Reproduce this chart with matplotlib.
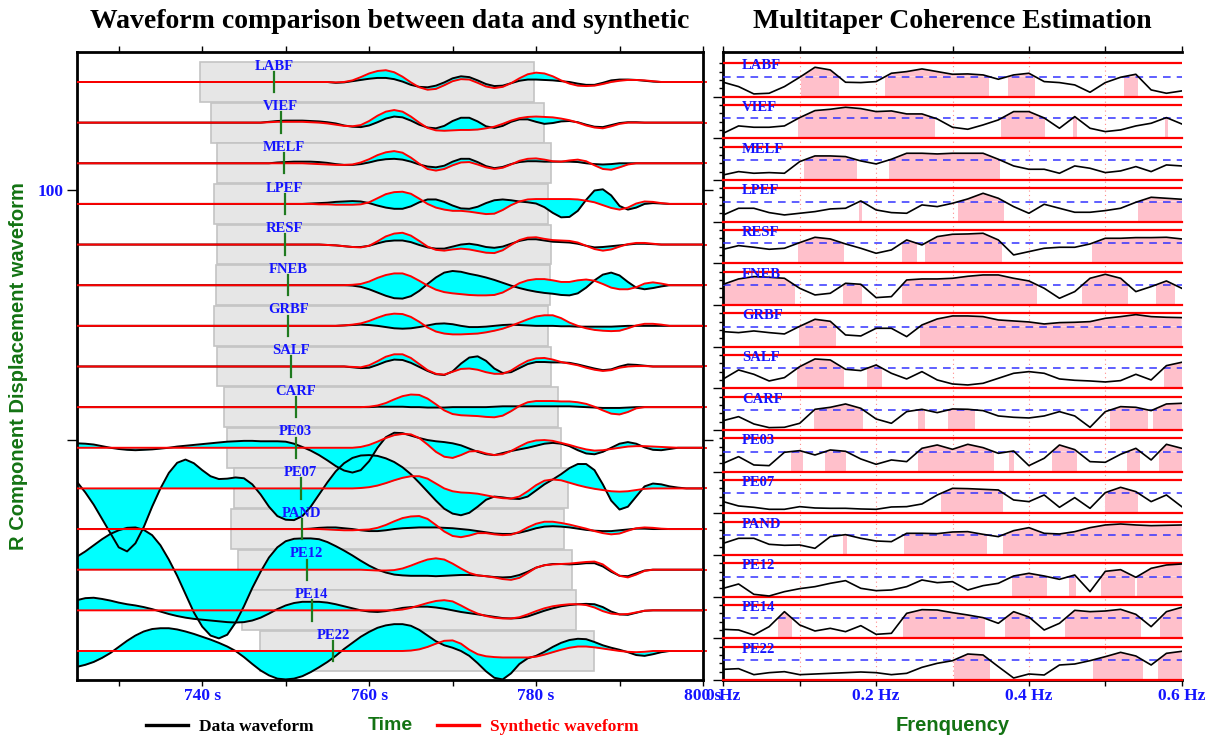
import numpy as np
import matplotlib.pyplot as plt
from matplotlib.lines import Line2D

# ---------------- data ----------------
stations = ['LABF', 'VIEF', 'MELF', 'LPEF', 'RESF', 'FNEB', 'GRBF', 'SALF',
            'CARF', 'PE03', 'PE07', 'PAND', 'PE12', 'PE14', 'PE22']

# arrival picks (s) and start of the 40 s comparison windows (s)
pick_t = [748.6, 749.4, 749.8, 749.9, 749.9, 750.3, 750.3, 750.6,
          751.2, 751.2, 751.8, 751.9, 752.5, 753.1, 755.7]
win_t0 = [739.7, 741.0, 741.8, 741.4, 741.8, 741.7, 741.4, 741.8,
          742.6, 743.0, 743.8, 743.4, 744.3, 744.8, 746.9]
win_len = 40.0

# waveforms, 1 s samples, amplitude in units of trace spacing; flat (0) outside
data_t0 = [756, 747, 748, 752, 754, 756, 756, 756, 758, 725, 725, 752, 725, 725, 725]
data_amp = [
    [-0.02,-0.01,0.02,0.05,0.08,0.10,0.10,0.07,0.01,-0.07,-0.12,-0.13,-0.09,-0.01,0.09,0.14,0.12,0.04,-0.05,-0.10,-0.09,-0.03,0.03,0.06,0.06,0.05,0.04,0.02,0.00,-0.04,-0.07,-0.07,-0.02,0.04,0.06,0.06,0.05,0.03,0.01,0.00],
    [0.00,0.02,0.04,0.05,0.05,0.05,0.04,0.03,0.01,-0.02,-0.07,-0.10,-0.11,-0.07,0.01,0.10,0.15,0.13,0.05,-0.05,-0.12,-0.14,-0.08,0.04,0.12,0.12,0.03,-0.09,-0.13,-0.08,0.02,0.08,0.08,0.02,-0.03,-0.01,0.03,0.04,0.01,-0.05,-0.10,-0.11,-0.06,-0.01,0.01,0.01,0.00],
    [0.00,0.02,0.03,0.04,0.04,0.04,0.03,0.01,-0.02,-0.04,-0.04,-0.02,0.02,0.07,0.10,0.11,0.09,0.04,-0.03,-0.08,-0.10,-0.06,0.04,0.11,0.11,0.03,-0.07,-0.12,-0.09,-0.02,0.03,0.05,0.05,0.04,0.04,0.04,0.04,0.03,0.00,-0.02,-0.03,-0.02,0.00,0.00],
    [0.00,0.01,0.02,0.03,0.05,0.06,0.07,0.06,0.02,-0.04,-0.09,-0.12,-0.12,-0.06,0.04,0.11,0.11,0.05,-0.04,-0.11,-0.12,-0.07,0.02,0.09,0.11,0.09,0.06,0.04,0.01,-0.08,-0.22,-0.33,-0.32,-0.17,0.10,0.33,0.36,0.21,-0.05,-0.14,-0.09,0.00,0.02,0.01,0.00],
    [0.00,-0.01,-0.02,-0.04,-0.06,-0.06,-0.03,0.03,0.08,0.10,0.10,0.06,-0.01,-0.07,-0.10,-0.10,-0.05,0.00,0.02,-0.01,-0.06,-0.08,-0.05,0.02,0.09,0.13,0.13,0.10,0.07,0.06,0.05,0.02,-0.03,-0.07,-0.06,-0.04,-0.02,0.00,0.02,0.02,0.01,0.00],
    [0.00,0.00,-0.01,-0.04,-0.10,-0.18,-0.26,-0.32,-0.33,-0.27,-0.14,0.03,0.19,0.31,0.35,0.33,0.28,0.24,0.19,0.13,0.06,-0.01,-0.07,-0.12,-0.16,-0.19,-0.21,-0.24,-0.25,-0.20,-0.06,0.12,0.26,0.31,0.24,0.08,-0.06,-0.10,-0.07,-0.03,0.00],
    [0.00,0.01,0.02,0.03,0.02,0.00,-0.03,-0.06,-0.07,-0.06,-0.03,0.01,0.05,0.06,0.04,0.00,-0.03,-0.03,-0.02,0.00,0.02,0.03,0.02,0.01,0.00,0.00,0.00,-0.01,-0.01,-0.02,-0.02,-0.02,-0.02,-0.02,-0.01,0.00],
    [0.00,0.00,-0.02,-0.04,-0.03,0.04,0.12,0.17,0.16,0.09,-0.01,-0.11,-0.19,-0.21,-0.12,0.07,0.22,0.25,0.14,-0.05,-0.16,-0.14,-0.04,0.06,0.11,0.11,0.10,0.10,0.09,0.05,0.00,-0.05,-0.09,-0.07,0.00,0.05,0.04,0.02,0.00],
    [0.00,0.00,0.00,0.01,0.01,0.01,0.01,0.00,0.00,-0.01,-0.01,-0.01,0.00,0.00,0.00,0.00,0.00,0.01,0.02,0.02,0.02,0.02,0.02,0.02,0.02,0.02,0.02,0.01,0.00,-0.01,-0.02,-0.02,-0.02,-0.01,0.00],
    [0.11,0.10,0.08,0.04,0.00,-0.03,-0.05,-0.06,-0.05,-0.04,-0.02,0.00,0.03,0.05,0.07,0.09,0.11,0.13,0.15,0.16,0.17,0.17,0.16,0.16,0.16,0.15,0.10,0.02,-0.07,-0.18,-0.31,-0.45,-0.56,-0.61,-0.55,-0.33,0.00,0.26,0.37,0.36,0.30,0.24,0.19,0.16,0.14,0.11,0.06,-0.02,-0.10,-0.16,-0.18,-0.13,-0.08,-0.04,0.00,0.05,0.10,0.12,0.10,0.04,-0.06,-0.14,-0.16,-0.10,0.00,0.10,0.14,0.10,0.01,-0.05,-0.06,-0.03,0.00],
    [0.16,-0.10,-0.40,-0.75,-1.10,-1.45,-1.55,-1.35,-0.95,-0.45,0.00,0.38,0.63,0.71,0.62,0.45,0.30,0.23,0.24,0.27,0.25,0.10,-0.15,-0.45,-0.68,-0.77,-0.78,-0.68,-0.45,-0.15,0.15,0.42,0.62,0.75,0.81,0.82,0.80,0.74,0.65,0.52,0.35,0.14,-0.08,-0.30,-0.50,-0.62,-0.66,-0.60,-0.45,-0.28,-0.20,-0.22,-0.25,-0.26,-0.20,-0.05,0.10,0.22,0.35,0.50,0.60,0.60,0.45,0.10,-0.30,-0.52,-0.45,-0.20,0.05,0.12,0.10,0.05,0.02,0.00,0.00,0.00],
    [0.00,0.01,0.03,0.04,0.04,0.02,0.00,-0.03,-0.05,-0.05,-0.03,0.00,0.02,0.03,0.04,0.04,0.04,0.03,0.02,0.00,-0.02,-0.05,-0.08,-0.11,-0.12,-0.12,-0.09,-0.04,0.02,0.06,0.07,0.06,0.04,0.01,-0.02,-0.04,-0.05,-0.05,-0.03,-0.01,0.01,0.01,0.00],
    [0.32,0.45,0.60,0.75,0.88,0.97,1.03,1.04,0.98,0.85,0.60,0.25,-0.15,-0.60,-1.05,-1.40,-1.62,-1.69,-1.60,-1.30,-0.90,-0.45,-0.05,0.30,0.55,0.70,0.76,0.77,0.77,0.75,0.68,0.58,0.47,0.35,0.22,0.10,0.00,-0.07,-0.12,-0.14,-0.15,-0.15,-0.15,-0.16,-0.15,-0.14,-0.13,-0.13,-0.14,-0.16,-0.18,-0.19,-0.18,-0.13,-0.05,0.05,0.11,0.14,0.14,0.13,0.14,0.16,0.16,0.08,-0.05,-0.15,-0.16,-0.09,-0.02,0.00],
    [0.25,0.30,0.31,0.28,0.24,0.19,0.15,0.12,0.08,0.03,-0.03,-0.09,-0.14,-0.18,-0.21,-0.23,-0.25,-0.27,-0.29,-0.30,-0.29,-0.25,-0.18,-0.08,0.03,0.12,0.18,0.21,0.21,0.21,0.19,0.15,0.10,0.05,0.00,-0.03,-0.04,-0.02,0.02,0.06,0.08,0.09,0.09,0.07,0.04,0.00,-0.04,-0.07,-0.10,-0.13,-0.16,-0.19,-0.20,-0.19,-0.15,-0.08,-0.01,0.05,0.10,0.13,0.15,0.16,0.15,0.08,-0.03,-0.10,-0.11,-0.06,-0.01,0.00],
    [-0.39,-0.34,-0.27,-0.17,-0.05,0.10,0.25,0.38,0.48,0.54,0.56,0.56,0.53,0.48,0.42,0.35,0.28,0.20,0.11,0.00,-0.15,-0.32,-0.48,-0.60,-0.68,-0.70,-0.68,-0.62,-0.52,-0.40,-0.27,-0.12,0.05,0.20,0.35,0.47,0.57,0.63,0.66,0.66,0.62,0.52,0.38,0.24,0.14,0.08,0.00,-0.12,-0.30,-0.50,-0.66,-0.70,-0.55,-0.32,-0.18,-0.12,-0.02,0.10,0.20,0.27,0.30,0.29,0.22,0.14,0.08,0.03,-0.03,-0.10,-0.12,-0.08,-0.03,0.00],
]
syn_t0 = [756, 747, 748, 752, 754, 756, 756, 756, 758, 758, 758, 752, 759, 763, 765]
syn_amp = [
    [-0.01,0.00,0.04,0.12,0.21,0.27,0.29,0.24,0.13,-0.01,-0.13,-0.19,-0.17,-0.08,0.02,0.07,0.06,-0.02,-0.11,-0.15,-0.12,-0.03,0.09,0.19,0.23,0.21,0.14,0.04,-0.04,-0.09,-0.10,-0.09,-0.05,0.00,0.03,0.05,0.05,0.04,0.02,0.00],
    [0.00,0.01,0.02,0.02,0.02,0.02,0.01,0.00,-0.02,-0.05,-0.08,-0.09,-0.06,0.04,0.17,0.27,0.31,0.27,0.15,0.00,-0.13,-0.19,-0.20,-0.19,-0.18,-0.18,-0.17,-0.14,-0.10,-0.03,0.05,0.11,0.14,0.15,0.14,0.13,0.10,0.06,0.00,-0.07,-0.12,-0.14,-0.09,-0.03,0.00,0.00],
    [0.00,0.00,0.00,0.00,0.00,-0.01,-0.02,-0.03,-0.04,-0.04,-0.03,0.02,0.10,0.20,0.27,0.30,0.26,0.14,-0.01,-0.14,-0.18,-0.14,-0.05,0.02,0.03,-0.03,-0.10,-0.14,-0.11,-0.03,0.06,0.11,0.12,0.09,0.05,0.04,0.07,0.09,0.05,-0.05,-0.14,-0.16,-0.10,-0.03,0.00],
    [0.00,0.00,-0.01,-0.01,-0.02,-0.02,-0.02,-0.01,0.04,0.14,0.24,0.29,0.30,0.25,0.13,0.00,-0.09,-0.14,-0.17,-0.17,-0.19,-0.22,-0.25,-0.24,-0.15,-0.03,0.06,0.11,0.12,0.12,0.12,0.12,0.12,0.11,0.08,0.04,-0.03,-0.10,-0.14,-0.09,0.01,0.06,0.05,0.02,0.00],
    [0.00,-0.01,-0.02,-0.04,-0.06,-0.07,-0.03,0.08,0.20,0.27,0.29,0.22,0.09,-0.05,-0.13,-0.15,-0.12,-0.10,-0.12,-0.16,-0.20,-0.21,-0.14,-0.01,0.11,0.17,0.18,0.14,0.11,0.10,0.09,0.05,-0.03,-0.11,-0.15,-0.12,-0.05,0.01,0.04,0.04,0.02,0.00],
    [0.00,0.00,0.01,0.03,0.09,0.18,0.25,0.29,0.29,0.22,0.11,-0.01,-0.11,-0.17,-0.20,-0.22,-0.24,-0.25,-0.25,-0.24,-0.18,-0.07,0.05,0.12,0.15,0.15,0.12,0.08,0.08,0.12,0.14,0.11,0.03,-0.06,-0.10,-0.10,-0.05,0.04,0.07,0.04,0.00],
    [0.00,0.01,0.03,0.06,0.12,0.20,0.27,0.30,0.29,0.22,0.10,-0.04,-0.14,-0.19,-0.21,-0.21,-0.20,-0.19,-0.16,-0.12,-0.07,0.00,0.08,0.16,0.23,0.26,0.26,0.19,0.08,0.00,-0.06,-0.10,-0.12,-0.13,-0.12,-0.06,0.01,0.05,0.05,0.03,0.00],
    [0.00,0.00,-0.01,-0.02,0.03,0.13,0.24,0.30,0.30,0.21,0.06,-0.09,-0.18,-0.20,-0.13,-0.06,-0.05,-0.08,-0.14,-0.18,-0.18,-0.10,0.03,0.14,0.20,0.21,0.17,0.11,0.07,0.03,-0.03,-0.08,-0.11,-0.09,-0.03,0.00,0.01,0.01,0.00],
    [0.00,0.00,0.01,0.04,0.10,0.19,0.27,0.31,0.30,0.21,0.07,-0.08,-0.17,-0.20,-0.21,-0.22,-0.24,-0.25,-0.21,-0.10,0.03,0.12,0.15,0.15,0.15,0.14,0.14,0.12,0.08,0.01,-0.08,-0.16,-0.18,-0.12,-0.03,0.00],
    [0.00,0.02,0.07,0.15,0.24,0.31,0.34,0.33,0.24,0.08,-0.10,-0.22,-0.25,-0.18,-0.09,-0.08,-0.14,-0.18,-0.16,-0.08,0.03,0.13,0.18,0.19,0.17,0.12,0.07,0.01,-0.04,-0.07,-0.06,-0.03,0.00,0.03,0.04,0.04,0.03,0.02,0.01,0.00],
    [0.00,0.01,0.03,0.07,0.13,0.20,0.26,0.30,0.30,0.24,0.12,0.00,-0.07,-0.10,-0.11,-0.13,-0.17,-0.21,-0.24,-0.25,-0.20,-0.07,0.08,0.19,0.22,0.20,0.14,0.08,0.03,-0.01,-0.04,-0.07,-0.08,-0.07,-0.04,-0.01,0.00],
    [0.00,0.00,0.00,-0.01,-0.02,-0.03,-0.03,-0.02,-0.01,0.03,0.10,0.19,0.27,0.31,0.32,0.25,0.10,-0.06,-0.17,-0.20,-0.16,-0.10,-0.10,-0.13,-0.15,-0.14,-0.07,0.04,0.13,0.18,0.18,0.15,0.11,0.06,0.01,-0.05,-0.10,-0.13,-0.11,-0.04,0.02,0.04,0.03,0.01,0.00],
    [0.00,-0.01,-0.02,-0.02,-0.01,0.03,0.10,0.18,0.25,0.28,0.25,0.15,0.03,-0.08,-0.14,-0.16,-0.19,-0.23,-0.25,-0.20,-0.08,0.05,0.11,0.13,0.14,0.15,0.17,0.19,0.20,0.13,-0.02,-0.15,-0.19,-0.12,-0.03,0.00],
    [0.00,0.02,0.06,0.12,0.18,0.23,0.25,0.22,0.12,0.01,-0.08,-0.14,-0.18,-0.20,-0.20,-0.17,-0.10,-0.02,0.05,0.10,0.13,0.15,0.15,0.13,0.07,-0.02,-0.08,-0.10,-0.09,-0.05,-0.01,0.00],
    [0.01,0.04,0.10,0.18,0.25,0.26,0.18,0.03,-0.08,-0.13,-0.15,-0.16,-0.16,-0.16,-0.16,-0.14,-0.09,-0.03,0.03,0.08,0.11,0.11,0.09,0.06,0.03,0.00,-0.02,-0.03,-0.02,0.00],
]

# multitaper coherence, 0 - 0.6 Hz every 0.02 Hz
freqs = np.linspace(0, 0.6, 31)
coh_threshold = 0.6
coherence = [
    [0.43,0.30,0.08,0.10,0.30,0.58,0.88,0.80,0.43,0.42,0.45,0.70,0.75,0.83,0.75,0.67,0.68,0.65,0.52,0.65,0.70,0.45,0.42,0.35,0.13,0.42,0.58,0.67,0.20,0.10,0.17],
    [0.15,0.37,0.33,0.33,0.37,0.62,0.83,0.87,0.93,0.89,0.80,0.82,0.73,0.73,0.58,0.33,0.27,0.40,0.55,0.80,0.80,0.61,0.30,0.65,0.30,0.20,0.25,0.37,0.45,0.62,0.43],
    [0.15,0.25,0.20,0.22,0.20,0.55,0.72,0.72,0.70,0.57,0.48,0.62,0.80,0.80,0.78,0.80,0.80,0.80,0.62,0.42,0.32,0.32,0.20,0.42,0.35,0.22,0.27,0.40,0.25,0.45,0.42],
    [0.20,0.40,0.40,0.27,0.20,0.25,0.30,0.38,0.40,0.62,0.35,0.27,0.25,0.50,0.45,0.55,0.68,0.85,0.70,0.45,0.25,0.52,0.40,0.28,0.28,0.33,0.40,0.58,0.73,0.70,0.67],
    [0.42,0.53,0.48,0.42,0.45,0.62,0.78,0.73,0.58,0.45,0.30,0.40,0.70,0.55,0.80,0.87,0.88,0.90,0.70,0.25,0.35,0.45,0.48,0.48,0.58,0.75,0.75,0.77,0.77,0.78,0.73],
    [0.62,0.78,0.85,0.83,0.80,0.50,0.30,0.35,0.65,0.62,0.22,0.25,0.75,0.78,0.78,0.80,0.86,0.90,0.90,0.80,0.72,0.50,0.20,0.40,0.80,0.92,0.80,0.40,0.55,0.72,0.50],
    [0.45,0.42,0.47,0.42,0.38,0.61,0.82,0.76,0.35,0.32,0.55,0.55,0.30,0.65,0.83,0.92,0.92,0.90,0.80,0.77,0.74,0.68,0.72,0.73,0.75,0.85,0.90,0.96,0.90,0.88,0.87],
    [0.28,0.55,0.42,0.22,0.32,0.65,0.88,0.85,0.57,0.53,0.70,0.45,0.28,0.50,0.25,0.13,0.10,0.15,0.30,0.45,0.50,0.45,0.28,0.24,0.22,0.19,0.23,0.42,0.25,0.68,0.78],
    [0.28,0.40,0.18,0.07,0.08,0.20,0.62,0.68,0.78,0.65,0.33,0.20,0.55,0.62,0.52,0.63,0.62,0.58,0.42,0.38,0.36,0.42,0.55,0.42,0.08,0.55,0.70,0.68,0.58,0.78,0.80],
    [0.25,0.45,0.20,0.18,0.58,0.63,0.50,0.65,0.61,0.38,0.22,0.35,0.30,0.70,0.80,0.67,0.82,0.72,0.55,0.62,0.18,0.40,0.80,0.66,0.30,0.28,0.52,0.70,0.35,0.82,0.70],
    [0.35,0.22,0.18,0.12,0.12,0.20,0.16,0.15,0.15,0.13,0.12,0.19,0.20,0.28,0.55,0.75,0.74,0.72,0.70,0.40,0.35,0.55,0.18,0.47,0.15,0.62,0.78,0.65,0.35,0.55,0.20],
    [0.35,0.50,0.50,0.32,0.29,0.30,0.20,0.55,0.61,0.50,0.42,0.40,0.65,0.65,0.64,0.69,0.70,0.62,0.55,0.73,0.82,0.65,0.63,0.70,0.82,0.90,0.93,0.90,0.88,0.89,0.90],
    [0.25,0.38,0.07,0.02,0.15,0.24,0.30,0.40,0.48,0.25,0.18,0.20,0.30,0.50,0.42,0.45,0.20,0.33,0.40,0.62,0.70,0.62,0.52,0.65,0.15,0.76,0.81,0.58,0.85,0.95,0.98],
    [0.27,0.25,0.10,0.35,0.80,0.40,0.22,0.30,0.20,0.38,0.12,0.15,0.75,0.86,0.85,0.77,0.70,0.62,0.45,0.80,0.64,0.25,0.45,0.84,0.80,0.82,0.87,0.72,0.35,0.80,0.93],
    [0.32,0.34,0.16,0.22,0.25,0.16,0.18,0.20,0.22,0.24,0.22,0.16,0.20,0.38,0.50,0.58,0.78,0.75,0.40,0.06,0.18,0.15,0.45,0.48,0.58,0.70,0.83,0.72,0.45,0.80,0.86],
]

# ---------------- styling ----------------
SERIF = ['Liberation Serif', 'DejaVu Serif']
SANS = ['Liberation Sans', 'DejaVu Sans']
BLUE = '#1414ff'
GREEN = '#137313'
PINK = '#ffc0cb'

t = np.arange(725, 801)


def full_trace(t0, vals):
    y = np.zeros(len(t))
    i = int(t0 - t[0])
    y[i:i + len(vals)] = vals
    return y


fig = plt.figure(figsize=(12.13, 7.40), dpi=100, facecolor='white')
ax1 = fig.add_axes([77 / 1213, 60 / 740, 626 / 1213, 628 / 740])
ax2 = fig.add_axes([723.3 / 1213, 60 / 740, 458.4 / 1213, 628 / 740])

n = len(stations)

# ---------------- left: waveforms ----------------
offsets = -np.arange(n)
ax1.barh(offsets, win_len, left=win_t0, height=0.98, color='#e6e6e6',
         edgecolor='#c4c4c4', linewidth=1.2, zorder=1)
for k, name in enumerate(stations):
    off = offsets[k]
    d = off + full_trace(data_t0[k], data_amp[k])
    s = off + full_trace(syn_t0[k], syn_amp[k])
    ax1.fill_between(t, d, s, color='#00ffff', linewidth=0, zorder=2)
    ax1.plot(t, d, color='black', lw=1.4, zorder=3)
    ax1.plot(t, s, color='red', lw=1.4, zorder=4)
    ax1.plot([pick_t[k], pick_t[k]], [off - 0.25, off + 0.25], color='#1f7a1f',
             lw=1.6, zorder=5)
    ax1.text(pick_t[k], off + 0.39, name, ha='center', va='center', color=BLUE,
             fontsize=10.5, fontweight='bold', family=SERIF, zorder=6)

ax1.set_xlim(725, 800)
ax1.set_ylim(-14.714, 0.738)
ax1.set_xticks([740, 760, 780, 800], labels=['740 s', '760 s', '780 s', '800 s'],
               color=BLUE, fontsize=12.5, fontweight='bold', family=SERIF)
ax1.set_xticks([730, 750, 770, 790], minor=True)
ax1.set_yticks([-2.657, -8.81], labels=['100', ''], color=BLUE, fontsize=12.5,
               fontweight='bold', family=SERIF)
ax1.set_yticks(offsets, minor=True)
ax1.tick_params(axis='x', which='both', direction='out', length=4, width=1,
                top=True, pad=2)
ax1.tick_params(axis='y', which='major', direction='out', length=7, width=1,
                left=True, right=True, pad=3)
ax1.tick_params(axis='y', which='minor', direction='out', length=3, width=1.2,
                left=False, right=True, color='red')
for sp in ax1.spines.values():
    sp.set_linewidth(2.0)
ax1.set_title('Waveform comparison between data and synthetic', fontsize=20,
              fontweight='bold', family=SERIF, pad=17)
ax1.set_ylabel('R Component Displacement waveform', color=GREEN, fontsize=14.5,
               fontweight='bold', family=SANS, va='center')
ax1.yaxis.set_label_coords(-0.094, 0.5)
ax1.set_xlabel('Time', color=GREEN, fontsize=14, fontweight='bold', family=SANS,
               va='center')
ax1.xaxis.set_label_coords(0.5, -0.073)

# ---------------- right: coherence ----------------
row_h = 0.8
for k, name in enumerate(stations):
    base = n - 1 - k
    c = np.array(coherence[k])
    y = base + row_h * c
    thr = base + row_h * coh_threshold
    # part of the shading above the threshold, cut where the curve crosses it
    upper = ax2.fill_between(freqs, thr, y, where=y > thr, interpolate=True,
                             color=PINK, linewidth=0, zorder=1)
    # below the threshold: straight down to the row base over the same span
    for p in upper.get_paths():
        xs = p.vertices[:, 0]
        if len(xs) == 0:
            continue
        ax2.bar(xs.min(), thr - base, width=xs.max() - xs.min(), bottom=base,
                align='edge', color=PINK, linewidth=0, zorder=1)
    ax2.axhline(base, color='red', lw=1.6, zorder=3, clip_on=False)
    ax2.axhline(base + row_h, color='red', lw=1.6, zorder=3)
    ax2.axhline(thr, color='#3333ff', lw=1.1, ls=(0, (5, 4)), zorder=3)
    ax2.plot(freqs, y, color='black', lw=1.2, zorder=4)
    ax2.text(0.0245, base + row_h * 0.92, name, ha='left', va='center', color=BLUE,
             fontsize=10.5, fontweight='bold', family=SERIF, zorder=6)

for f in [0.1, 0.2, 0.3, 0.4, 0.5]:
    ax2.axvline(f, color='#ff8a8a', lw=0.8, ls=(0, (1, 3)), zorder=0.5)

ax2.set_xlim(0, 0.6)
ax2.set_ylim(0, 15.07)
ax2.set_xticks([0, 0.2, 0.4, 0.6], labels=['0 Hz', '0.2 Hz', '0.4 Hz', '0.6 Hz'],
               color=BLUE, fontsize=12.5, fontweight='bold', family=SERIF)
ax2.set_xticks([0.1, 0.3, 0.5], minor=True)
ax2.set_yticks(np.arange(n), labels=[''] * n)
ax2.set_yticks([b + row_h * q for b in range(n) for q in (0.25, 0.5, 0.75, 1.0)],
               minor=True)
ax2.tick_params(axis='x', which='both', direction='out', length=4, width=1,
                top=True, pad=2)
ax2.tick_params(axis='y', which='major', direction='out', length=7, width=1,
                left=True, right=False)
ax2.tick_params(axis='y', which='minor', direction='out', length=3, width=1,
                left=True, right=False)
ax2.spines['right'].set_visible(False)
for side in ['top', 'left', 'bottom']:
    ax2.spines[side].set_linewidth(2.0)
ax2.set_title('Multitaper Coherence Estimation', fontsize=20, fontweight='bold',
              family=SERIF, pad=17)
ax2.set_xlabel('Frenquency', color=GREEN, fontsize=14.5, fontweight='bold',
               family=SANS, va='center')
ax2.xaxis.set_label_coords(0.5, -0.073)

# ---------------- legend ----------------
handles = [Line2D([], [], color='black', lw=2.4), Line2D([], [], color='red', lw=2.4)]
leg = fig.legend(handles, ['Data waveform', 'Synthetic waveform'], ncol=2,
                 loc='center', bbox_to_anchor=(392.5 / 1213, 13 / 740), frameon=False,
                 handlelength=2.42, handletextpad=0.63, columnspacing=7.1,
                 prop={'family': SERIF, 'weight': 'bold', 'size': 12.5})
leg.get_texts()[1].set_color('red')

fig.savefig('out.png', dpi=100)
